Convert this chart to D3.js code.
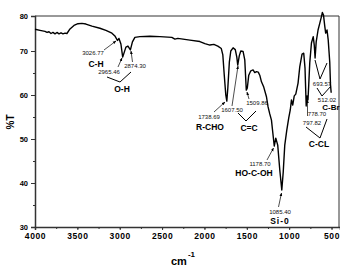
<!DOCTYPE html>
<html>
<head>
<meta charset="utf-8">
<script src="https://cdn.jsdelivr.net/npm/d3@7/dist/d3.min.js"></script>
<style>
  body { margin: 0; background: #fff; }
  svg { display: block; font-family: "Liberation Sans", Arial, sans-serif; }
</style>
</head>
<body>
<div id="chart"></div>
<script>
// wavenumber (cm-1) and transmittance (%T)
var wavenumber = [4000, 3941, 3882, 3858, 3835, 3811, 3788, 3764, 3741, 3717, 3693, 3670, 3646, 3623,
  3587, 3540, 3493, 3446, 3399, 3328, 3234, 3163, 3092, 3057, 3027, 3009, 2986, 2965, 2945, 2927,
  2903, 2874, 2850, 2821, 2762, 2644, 2526, 2385, 2349, 2314, 2172, 2054, 1995, 1936, 1889, 1842,
  1801, 1783, 1766, 1748, 1736, 1724, 1706, 1689, 1662, 1636, 1618, 1607, 1589, 1571, 1544, 1524,
  1506, 1494, 1477, 1453, 1426, 1406, 1386, 1365, 1347, 1327, 1300, 1268, 1249, 1229, 1209, 1194,
  1176, 1158, 1135, 1111, 1087, 1070, 1052, 1028, 1005, 987, 973, 958, 940, 922, 895, 875, 848,
  828, 813, 799, 789, 778, 769, 757, 737, 716, 704, 694, 681, 659, 639, 619, 608, 595, 580, 569,
  553, 539, 521, 512, 504];
var transmittance = [76.2, 75.9, 75.6, 75.3, 75.5, 75.0, 75.3, 74.9, 75.3, 74.9, 75.2, 74.9, 75.1, 75.0,
  76.3, 77.3, 77.8, 77.9, 77.7, 77.1, 76.5, 75.9, 75.1, 74.3, 73.0, 73.6, 72.0, 68.6, 69.8, 71.1,
  71.4, 70.3, 72.6, 73.9, 74.1, 74.2, 74.1, 73.9, 73.4, 73.6, 73.1, 72.7, 72.1, 71.7, 71.9, 71.4,
  70.7, 69.1, 64.5, 60.0, 58.6, 61.6, 67.5, 70.0, 70.9, 70.4, 68.6, 66.8, 68.9, 70.0, 69.9, 68.0,
  61.1, 61.6, 64.5, 65.5, 65.7, 65.1, 65.3, 65.2, 64.5, 63.0, 61.8, 59.6, 57.3, 55.7, 54.3, 51.6,
  48.4, 50.2, 48.6, 43.0, 38.4, 42.5, 48.6, 52.0, 54.8, 56.6, 58.9, 57.7, 59.8, 60.2, 62.7, 66.4, 69.3,
  69.5, 66.1, 57.5, 59.8, 58.9, 62.3, 67.3, 72.3, 74.1, 71.7, 68.4, 72.6, 76.0, 77.9, 79.8, 81.0, 80.3, 77.1, 75.1,
  76.0, 73.1, 67.5, 62.3, 60.5];

var xTicks = [4000, 3500, 3000, 2500, 2000, 1500, 1000, 500];
var yTicks = [30, 40, 50, 60, 70, 80];

var width = 340, height = 267;

var svg = d3.select("#chart").append("svg")
    .attr("width", width)
    .attr("height", height);

var x = d3.scaleLinear().domain([4000, 400]).range([35, 340]);
// the original axis is squeezed between 70 and 80
var y = d3.scaleLinear().domain([30, 70, 80]).range([227, 51, 16]);

var axisColor = "#333";

// frame
svg.append("path")
    .attr("d", "M35,16H339V227")
    .attr("fill", "none")
    .attr("stroke", axisColor)
    .attr("stroke-width", 1);

// x axis
var xMinor = d3.range(4000, 400, -250);
svg.append("g")
    .attr("transform", "translate(0,227)")
    .call(d3.axisBottom(x).tickValues(xMinor).tickSize(2).tickFormat(""))
    .call(function (g) { g.select(".domain").remove(); })
    .selectAll("line").attr("stroke", axisColor);

var gx = svg.append("g")
    .attr("transform", "translate(0,227)")
    .call(d3.axisBottom(x).tickValues(xTicks).tickSize(3).tickPadding(3).tickFormat(d3.format("d")));
gx.select(".domain").attr("stroke", axisColor).attr("stroke-width", 1.5);
gx.selectAll("line").attr("stroke", axisColor);
gx.selectAll("text")
    .attr("font-size", 8.5)
    .attr("font-weight", "bold")
    .attr("letter-spacing", 0.6)
    .attr("fill", "#000");

// y axis
svg.append("g")
    .attr("transform", "translate(35,0)")
    .call(d3.axisLeft(y).tickValues([35, 45, 55, 65]).tickSize(2).tickFormat(""))
    .call(function (g) { g.select(".domain").remove(); })
    .selectAll("line").attr("stroke", axisColor);

var gy = svg.append("g")
    .attr("transform", "translate(35,0)")
    .call(d3.axisLeft(y).tickValues(yTicks).tickSize(4).tickPadding(3));
gy.select(".domain").attr("stroke", axisColor).attr("stroke-width", 1.5);
gy.selectAll("line").attr("stroke", axisColor);
gy.selectAll("text")
    .attr("font-size", 7.5)
    .attr("font-weight", "bold")
    .attr("dy", "0.28em")
    .attr("fill", "#000");

// axis titles
svg.append("text")
    .attr("transform", "translate(14,122) rotate(-90)")
    .attr("text-anchor", "middle")
    .attr("font-size", 10)
    .attr("font-weight", "bold")
    .attr("fill", "#000")
    .text("%T");

var xt = svg.append("text")
    .attr("x", 171)
    .attr("y", 265)
    .attr("font-size", 11)
    .attr("font-weight", "bold")
    .attr("fill", "#000")
    .text("cm");
xt.append("tspan")
    .attr("dy", -8)
    .attr("dx", 1)
    .attr("font-size", 8)
    .text("-1");

// spectrum
var points = wavenumber.map(function (w, i) { return [w, transmittance[i]]; });
var line = d3.line()
    .x(function (d) { return x(d[0]); })
    .y(function (d) { return y(d[1]); });

svg.append("path")
    .datum(points)
    .attr("d", line)
    .attr("fill", "none")
    .attr("stroke", "#000")
    .attr("stroke-width", 1.4)
    .attr("stroke-linejoin", "round");

// annotations
svg.append("defs").append("marker")
    .attr("id", "arr")
    .attr("viewBox", "0 0 10 10")
    .attr("refX", 9).attr("refY", 5)
    .attr("markerWidth", 5).attr("markerHeight", 5)
    .attr("orient", "auto")
    .append("path").attr("d", "M0,1L10,5L0,9Z").attr("fill", "#000");

var peakText = [
  ["3026.77", 93, 55], ["2965.46", 109, 74], ["2874.30", 135, 68],
  ["1738.69", 209, 119], ["1607.50", 232, 112], ["1509.86", 257, 105],
  ["1178.70", 260, 166], ["1085.40", 280, 214],
  ["693.57", 322, 86], ["512.02", 327, 102], ["778.70", 317, 116], ["797.82", 312, 125]
];
var groupText = [
  ["C-H", 96, 67], ["O-H", 122, 92], ["R-CHO", 210, 130], ["C=C", 249, 131],
  ["HO-C-OH", 254, 176], ["Si-0", 280, 224], ["C-Br", 331, 110], ["C-CL", 319, 147]
];
var arrows = [
  [104, 50, 116, 41], [118, 67, 122, 58], [132.5, 62, 131, 51],
  [214, 112, 225, 102], [232, 106, 238, 66], [249, 99, 247, 92],
  [267, 160, 273.5, 148], [278.5, 207, 281.5, 193], [307.5, 116, 307.5, 100]
];
var brackets = [
  [[107, 77], [120, 82], [131, 72]],
  [[238, 113], [246, 121], [256, 111]],
  [[315, 60], [320, 79], [327, 63]],
  [[317, 88], [322, 96], [331, 86]],
  [[306, 127], [320, 138], [327, 119]]
];

svg.selectAll(".peak").data(peakText).enter().append("text")
    .attr("x", function (d) { return d[1]; })
    .attr("y", function (d) { return d[2]; })
    .attr("text-anchor", "middle")
    .attr("font-size", 6)
    .attr("fill", "#111")
    .text(function (d) { return d[0]; });

svg.selectAll(".grp").data(groupText).enter().append("text")
    .attr("x", function (d) { return d[1]; })
    .attr("y", function (d) { return d[2]; })
    .attr("text-anchor", "middle")
    .attr("font-size", function (d) { return d[0] === "C-Br" ? 8 : 8.5; })
    .attr("font-weight", "bold")
    .attr("fill", "#000")
    .attr("letter-spacing", function (d) { return d[0] === "Si-0" ? 1 : 0; })
    .text(function (d) { return d[0]; });

svg.selectAll(".arrow").data(arrows).enter().append("line")
    .attr("x1", function (d) { return d[0]; })
    .attr("y1", function (d) { return d[1]; })
    .attr("x2", function (d) { return d[2]; })
    .attr("y2", function (d) { return d[3]; })
    .attr("stroke", "#000")
    .attr("stroke-width", 0.7)
    .attr("marker-end", "url(#arr)");

svg.selectAll(".bracket").data(brackets).enter().append("polyline")
    .attr("points", function (d) { return d.join(" "); })
    .attr("fill", "none")
    .attr("stroke", "#000")
    .attr("stroke-width", 1);
</script>
</body>
</html>
